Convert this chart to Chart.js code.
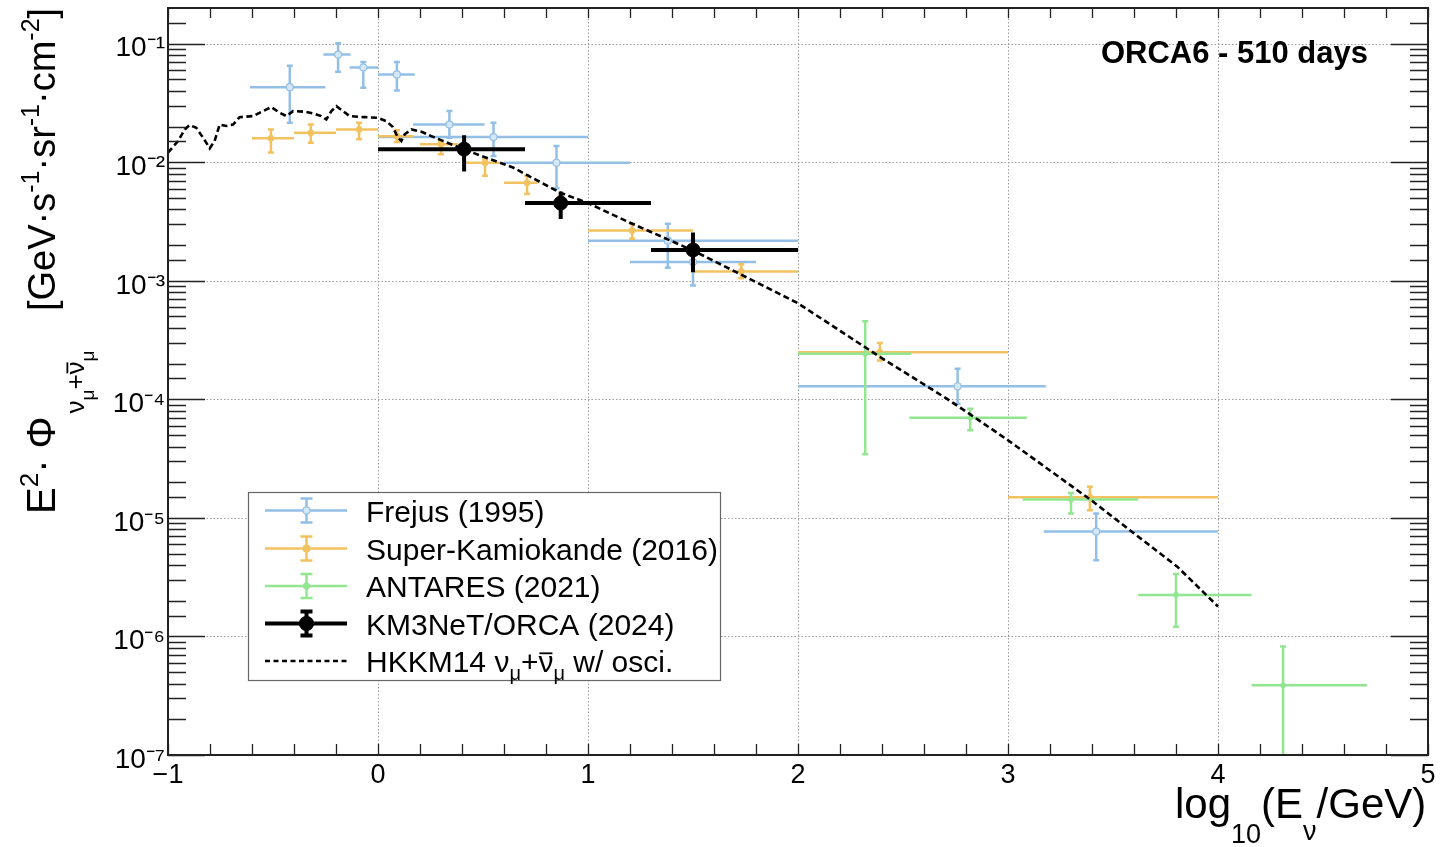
<!DOCTYPE html>
<html><head><meta charset="utf-8">
<script src="https://cdn.jsdelivr.net/npm/chart.js@4.4.1/dist/chart.umd.min.js"></script>
<style>html,body{margin:0;padding:0;background:#fff;}#wrap{position:relative;width:1453px;height:847px;}canvas{display:block;}</style>
</head><body><div id="wrap"><canvas id="c" width="1453" height="847"></canvas></div>
<script>
const FONT = '"Liberation Sans", Arial, Helvetica, sans-serif';

// ---- Frejus (1995) ----
const frejusX   = [-0.42, -0.19, -0.07, 0.09, 0.34, 0.55, 0.85, 1.38, 1.50, 2.76, 3.42];
const frejusY   = [0.043, 0.081, 0.063, 0.055, 0.0208, 0.0163, 0.0099, 0.00218, 0.00144, 1.29e-4, 7.66e-6];
const frejusXLo = [-0.61, -0.26, -0.135, 0.0, 0.167, 0.0, 0.60, 1.0, 1.20, 2.0, 3.17];
const frejusXHi = [-0.25, -0.13, 0.0, 0.175, 0.507, 1.0, 1.20, 2.0, 1.80, 3.18, 4.0];
const frejusYLo = [0.0215, 0.058, 0.0424, 0.0403, 0.0161, 0.0113, 0.0060, 0.00129, 0.000912, 9.2e-5, 4.4e-6];
const frejusYHi = [0.065, 0.101, 0.070, 0.070, 0.027, 0.0215, 0.0137, 0.00303, 0.00192, 1.81e-4, 1.09e-5];

// ---- Super-Kamiokande (2016) ----
const skX   = [-0.51, -0.32, -0.09, 0.09, 0.30, 0.51, 0.71, 0.87, 1.21, 1.73, 2.39, 3.39];
const skY   = [0.0159, 0.0177, 0.0189, 0.0166, 0.0142, 0.0099, 0.0067, 0.0046, 0.00265, 0.0012, 0.00025, 1.49e-5];
const skXLo = [-0.60, -0.40, -0.20, 0.0, 0.20, 0.42, 0.60, 0.80, 1.0, 1.5, 2.0, 3.0];
const skXHi = [-0.40, -0.20, 0.0, 0.17, 0.38, 0.58, 0.76, 0.95, 1.5, 2.0, 3.0, 4.0];
const skYLo = [0.0121, 0.0146, 0.0156, 0.0148, 0.0117, 0.0077, 0.0054, 0.0041, 0.00226, 0.00105, 0.000213, 1.16e-5];
const skYHi = [0.0189, 0.0208, 0.0215, 0.0186, 0.0151, 0.0106, 0.0077, 0.0052, 0.00302, 0.00138, 0.000298, 1.83e-5];

// ---- ANTARES (2021) ----
const antX   = [2.32, 2.82, 3.30, 3.80, 4.31];
const antY   = [2.42e-4, 7.0e-5, 1.43e-5, 2.24e-6, 3.87e-7];
const antXLo = [2.0, 2.53, 3.07, 3.62, 4.16];
const antXHi = [2.54, 3.09, 3.62, 4.16, 4.71];
const antYLo = [3.44e-5, 5.48e-5, 1.09e-5, 1.21e-6, 1e-8];
const antYHi = [4.56e-4, 8.34e-5, 1.62e-5, 3.37e-6, 8.24e-7];

// ---- KM3NeT/ORCA (2024) ----
const orcaX   = [0.41, 0.87, 1.50];
const orcaY   = [0.0129, 0.00452, 0.00182];
const orcaXLo = [0.0, 0.70, 1.30];
const orcaXHi = [0.70, 1.30, 2.0];
const orcaYLo = [0.00834, 0.00332, 0.00118];
const orcaYHi = [0.01687, 0.00566, 0.00256];

// ---- HKKM14 numu+anti-numu w/ osci. ----
const hkkmX = [-1.0, -0.952, -0.920, -0.897, -0.865, -0.833, -0.801, -0.778, -0.754, -0.722, -0.690, -0.659,
  -0.595, -0.548, -0.508, -0.468, -0.436, -0.405, -0.349, -0.301, -0.270, -0.246, -0.222, -0.198, -0.167,
  -0.135, -0.063, 0.0, 0.040, 0.071, 0.095, 0.111, 0.127, 0.159, 0.207, 0.254, 0.405, 0.643, 0.865, 1.0,
  1.2, 1.5, 1.72, 2.0, 2.39, 2.706, 2.827, 3.0, 3.396, 3.579, 3.806, 4.0];
const hkkmY = [0.01205, 0.0151, 0.0189, 0.0206, 0.0195, 0.0161, 0.0131, 0.0151, 0.0208, 0.0202, 0.0208, 0.0240,
  0.0245, 0.0270, 0.0292, 0.0261, 0.0245, 0.0270, 0.0267, 0.0256, 0.0245, 0.0230, 0.0270, 0.0297, 0.0270,
  0.0245, 0.0240, 0.0237, 0.0222, 0.0198, 0.0161, 0.0151, 0.0172, 0.0189, 0.0181, 0.0166, 0.0129, 0.00902, 0.00556, 0.00452,
  0.00309, 0.00180, 0.00115, 0.000646, 0.000228, 0.000102, 7.33e-5, 4.52e-5, 1.41e-5, 7.91e-6, 3.88e-6, 1.79e-6];

const xTickValues = [-1, 0, 1, 2, 3, 4, 5];
const seriesNames = ['Frejus (1995)', 'Super-Kamiokande (2016)', 'ANTARES (2021)', 'KM3NeT/ORCA (2024)', 'HKKM14'];
const plotLabel = 'ORCA6 - 510 days';

const C_BLUE = '#93bfe6', C_ORANGE = '#f2c261', C_GREEN = '#92e692', C_BLACK = '#000';

const pts = (xs, ys) => xs.map((x, i) => ({x, y: ys[i]}));
const supMap = {'-':'\u207b','0':'\u2070','1':'\u00b9','2':'\u00b2','3':'\u00b3','4':'\u2074','5':'\u2075','6':'\u2076','7':'\u2077','8':'\u2078','9':'\u2079'};
const sup = s => String(s).split('').map(c => supMap[c]).join('');

function drawErrors(chart, e) {
  const ctx = chart.ctx, xs = chart.scales.x, ys = chart.scales.y, a = chart.chartArea;
  ctx.save();
  ctx.beginPath(); ctx.rect(a.left, a.top, a.right - a.left, a.bottom - a.top); ctx.clip();
  ctx.strokeStyle = e.color; ctx.lineWidth = e.lw; ctx.lineCap = 'butt';
  for (let i = 0; i < e.x.length; i++) {
    const px = xs.getPixelForValue(e.x[i]), py = ys.getPixelForValue(e.y[i]);
    const x0 = xs.getPixelForValue(e.xLo[i]), x1 = xs.getPixelForValue(e.xHi[i]);
    const y0 = ys.getPixelForValue(e.yLo[i]), y1 = ys.getPixelForValue(e.yHi[i]);
    ctx.beginPath();
    ctx.moveTo(x0, py); ctx.lineTo(x1, py);
    ctx.moveTo(px, y0); ctx.lineTo(px, y1);
    if (e.cap) {
      ctx.moveTo(px - e.cap, y0); ctx.lineTo(px + e.cap, y0);
      ctx.moveTo(px - e.cap, y1); ctx.lineTo(px + e.cap, y1);
    }
    ctx.stroke();
  }
  ctx.restore();
}

function runText(ctx, parts) {
  let cx = 0;
  for (const p of parts) {
    ctx.font = `${p.w || 'normal'} ${p.s}px ${FONT}`;
    const dy = p.dy || 0;
    ctx.fillText(p.t, cx, dy);
    const w = ctx.measureText(p.t).width;
    if (p.bar) ctx.fillRect(cx + 1, dy - (0.52 * p.s + 4), w - 2, 1.8);
    cx += w;
  }
  return cx;
}

const decorPlugin = {
  id: 'decor',
  beforeDatasetsDraw(chart) {
    const ctx = chart.ctx, a = chart.chartArea, xs = chart.scales.x, ys = chart.scales.y;
    ctx.save();
    ctx.strokeStyle = '#9a9a9a'; ctx.lineWidth = 1; ctx.setLineDash([1.5, 2]);
    xs.ticks.forEach(t => {
      if (t.value <= xs.min || t.value >= xs.max) return;
      const p = Math.round(xs.getPixelForValue(t.value)) + 0.5;
      ctx.beginPath(); ctx.moveTo(p, a.top); ctx.lineTo(p, a.bottom); ctx.stroke();
    });
    ys.ticks.forEach(t => {
      const e = Math.log10(t.value);
      if (Math.abs(e - Math.round(e)) > 1e-6) return;
      if (t.value <= ys.min * 1.0001 || t.value >= ys.max) return;
      const p = Math.round(ys.getPixelForValue(t.value)) + 0.5;
      ctx.beginPath(); ctx.moveTo(a.left, p); ctx.lineTo(a.right, p); ctx.stroke();
    });
    ctx.restore();
  },
  beforeDatasetDraw(chart, args) {
    const ds = chart.data.datasets[args.index];
    if (ds._err) drawErrors(chart, ds._err);
  },
  afterDatasetsDraw(chart) {
    const ctx = chart.ctx, a = chart.chartArea, xs = chart.scales.x, ys = chart.scales.y;
    ctx.save();
    // tick marks
    ctx.strokeStyle = '#222'; ctx.lineWidth = 1.3;
    for (let k = 0; k <= 30; k++) {
      const v = xs.min + k * 0.2;
      const p = Math.round(xs.getPixelForValue(v)) + 0.5;
      ctx.beginPath();
      ctx.moveTo(p, a.bottom); ctx.lineTo(p, a.bottom - 11);
      ctx.moveTo(p, a.top); ctx.lineTo(p, a.top + 10);
      ctx.stroke();
    }
    ys.ticks.forEach(t => {
      if (t.value > ys.max || t.value < ys.min) return;
      const e = Math.log10(t.value);
      const major = Math.abs(e - Math.round(e)) < 1e-6;
      if (!major && Math.abs(t.value - ys.max) < 1e-9) return;
      const len = major ? 37 : 18;
      const p = Math.round(ys.getPixelForValue(t.value)) + 0.5;
      ctx.beginPath();
      ctx.moveTo(a.left, p); ctx.lineTo(a.left + len, p);
      ctx.moveTo(a.right, p); ctx.lineTo(a.right - len, p);
      ctx.stroke();
    });
    // frame
    ctx.strokeStyle = '#222'; ctx.lineWidth = 2;
    ctx.strokeRect(a.left, a.top, a.right - a.left, a.bottom - a.top);

    // label
    ctx.fillStyle = '#000';
    ctx.font = `bold 31px ${FONT}`;
    ctx.textAlign = 'right'; ctx.textBaseline = 'alphabetic';
    ctx.fillText(plotLabel, 1368, 63);
    ctx.textAlign = 'left';

    // legend
    const L = {x: 248, y: 492, w: 472, h: 188};
    ctx.fillStyle = '#fff'; ctx.fillRect(L.x, L.y, L.w, L.h);
    ctx.strokeStyle = '#666'; ctx.lineWidth = 1.2; ctx.strokeRect(L.x + 0.5, L.y + 0.5, L.w, L.h);
    const rows = [510.5, 548.5, 586, 623.5, 661];
    const styles = [
      {c: C_BLUE, lw: 2.5, r: 3.5, fill: '#d6e8f7'},
      {c: C_ORANGE, lw: 2.5, r: 3.5, fill: C_ORANGE},
      {c: C_GREEN, lw: 2.5, r: 3, fill: C_GREEN},
      {c: C_BLACK, lw: 4, r: 7, fill: C_BLACK}
    ];
    const sx0 = 265, sx1 = 347, scx = 306.5;
    styles.forEach((st, i) => {
      const cy = rows[i];
      ctx.strokeStyle = st.c; ctx.lineWidth = st.lw;
      ctx.beginPath();
      ctx.moveTo(sx0, cy); ctx.lineTo(sx1, cy);
      ctx.moveTo(scx, cy - 12); ctx.lineTo(scx, cy + 12);
      ctx.moveTo(scx - 6, cy - 12); ctx.lineTo(scx + 6, cy - 12);
      ctx.moveTo(scx - 6, cy + 12); ctx.lineTo(scx + 6, cy + 12);
      ctx.stroke();
      ctx.beginPath(); ctx.arc(scx, cy, st.r, 0, Math.PI * 2);
      ctx.fillStyle = st.fill; ctx.fill();
      ctx.lineWidth = 1.2; ctx.strokeStyle = st.c; ctx.stroke();
      ctx.fillStyle = '#000'; ctx.font = `30px ${FONT}`;
      ctx.fillText(seriesNames[i], 366, cy + 11);
    });
    // dashed line entry
    ctx.strokeStyle = '#000'; ctx.lineWidth = 2.5; ctx.setLineDash([5, 3.5]);
    ctx.beginPath(); ctx.moveTo(sx0, rows[4]); ctx.lineTo(sx1, rows[4]); ctx.stroke();
    ctx.setLineDash([]);
    ctx.fillStyle = '#000';
    ctx.save(); ctx.translate(366, rows[4] + 11);
    runText(ctx, [
      {t: seriesNames[4] + ' \u03bd', s: 30},
      {t: '\u03bc', s: 20, dy: 8},
      {t: '+', s: 30},
      {t: '\u03bd', s: 30, bar: true},
      {t: '\u03bc', s: 20, dy: 8},
      {t: ' w/ osci.', s: 30}
    ]);
    ctx.restore();
    ctx.restore();
  },
  afterDraw(chart) {
    const ctx = chart.ctx;
    ctx.save();
    ctx.fillStyle = '#000'; ctx.textAlign = 'left'; ctx.textBaseline = 'alphabetic';
    // x-axis title
    ctx.save(); ctx.translate(1175, 818);
    runText(ctx, [
      {t: 'log', s: 42}, {t: '10', s: 27, dy: 25}, {t: '(E', s: 42},
      {t: '\u03bd', s: 27, dy: 22}, {t: '/GeV)', s: 42}
    ]);
    ctx.restore();
    // y-axis title (rotated)
    const bx = 55;
    ctx.save(); ctx.translate(bx, 514); ctx.rotate(-Math.PI / 2);
    const w1 = runText(ctx, [
      {t: 'E', s: 40}, {t: '2', s: 26, dy: -17}, {t: '\u00b7 \u03a6', s: 40}
    ]);
    ctx.translate(w1 + 3, 0);
    runText(ctx, [
      {t: '\u03bd', s: 26, dy: 29}, {t: '\u03bc', s: 19, dy: 39},
      {t: '+', s: 26, dy: 29}, {t: '\u03bd', s: 26, dy: 29, bar: true}, {t: '\u03bc', s: 19, dy: 39}
    ]);
    ctx.restore();
    ctx.save(); ctx.translate(bx, 311); ctx.rotate(-Math.PI / 2);
    runText(ctx, [
      {t: '[GeV\u00b7s', s: 38}, {t: '-1', s: 25, dy: -16},
      {t: '\u00b7sr', s: 38}, {t: '-1', s: 25, dy: -16},
      {t: '\u00b7cm', s: 38}, {t: '-2', s: 25, dy: -16}, {t: ']', s: 38}
    ]);
    ctx.restore();
    ctx.restore();
  }
};

const ctx = document.getElementById('c').getContext('2d');
new Chart(ctx, {
  type: 'scatter',
  data: {
    datasets: [
      {label: seriesNames[0], data: pts(frejusX, frejusY), order: 5, pointRadius: 3.5, pointBorderWidth: 1.2,
       pointBorderColor: C_BLUE, pointBackgroundColor: '#d6e8f7', showLine: false,
       _err: {x: frejusX, y: frejusY, xLo: frejusXLo, xHi: frejusXHi, yLo: frejusYLo, yHi: frejusYHi, color: C_BLUE, lw: 2.5, cap: 3}},
      {label: seriesNames[1], data: pts(skX, skY), order: 4, pointRadius: 3, pointBorderWidth: 1,
       pointBorderColor: C_ORANGE, pointBackgroundColor: C_ORANGE, showLine: false,
       _err: {x: skX, y: skY, xLo: skXLo, xHi: skXHi, yLo: skYLo, yHi: skYHi, color: C_ORANGE, lw: 2.5, cap: 3}},
      {label: seriesNames[2], data: pts(antX, antY), order: 3, pointRadius: 2.5, pointBorderWidth: 1,
       pointBorderColor: C_GREEN, pointBackgroundColor: C_GREEN, showLine: false,
       _err: {x: antX, y: antY, xLo: antXLo, xHi: antXHi, yLo: antYLo, yHi: antYHi, color: C_GREEN, lw: 2.5, cap: 3}},
      {label: seriesNames[3], data: pts(orcaX, orcaY), order: 1, pointRadius: 7, pointBorderWidth: 1,
       pointBorderColor: C_BLACK, pointBackgroundColor: C_BLACK, showLine: false,
       _err: {x: orcaX, y: orcaY, xLo: orcaXLo, xHi: orcaXHi, yLo: orcaYLo, yHi: orcaYHi, color: C_BLACK, lw: 4, cap: 0}},
      {label: seriesNames[4], data: pts(hkkmX, hkkmY), order: 2, showLine: true, pointRadius: 0,
       borderColor: '#000', borderWidth: 2.6, borderDash: [6, 3.5], tension: 0, fill: false}
    ]
  },
  options: {
    responsive: false, animation: false, devicePixelRatio: 1,
    layout: {padding: {top: 7, right: 25, left: 0, bottom: 0}},
    plugins: {legend: {display: false}, tooltip: {enabled: false}},
    scales: {
      x: {
        type: 'linear', min: -1, max: 5,
        afterBuildTicks: s => { s.ticks = xTickValues.map(v => ({value: v})); },
        ticks: {color: '#000', font: {family: FONT, size: 27}, padding: 4, autoSkip: false, maxRotation: 0,
                callback: v => (v < 0 ? '\u2212' + (-v) : String(v))},
        grid: {display: false, drawTicks: false}, border: {display: false},
        afterFit: s => { s.height = 92; s.paddingLeft = 0; s.paddingRight = 0; }
      },
      y: {
        type: 'logarithmic', min: 1e-7, max: 0.2,
        ticks: {color: '#000', font: {family: FONT, size: 28}, padding: 3, autoSkip: false, labelOffset: 5,
                callback: v => { const e = Math.log10(v); const r = Math.round(e);
                  return Math.abs(e - r) < 1e-6 ? '10' + sup(r) : ''; }},
        grid: {display: false, drawTicks: false}, border: {display: false},
        afterFit: s => { s.width = 168; s.paddingTop = 0; s.paddingBottom = 0; }
      }
    }
  },
  plugins: [decorPlugin]
});
</script>
</body></html>
